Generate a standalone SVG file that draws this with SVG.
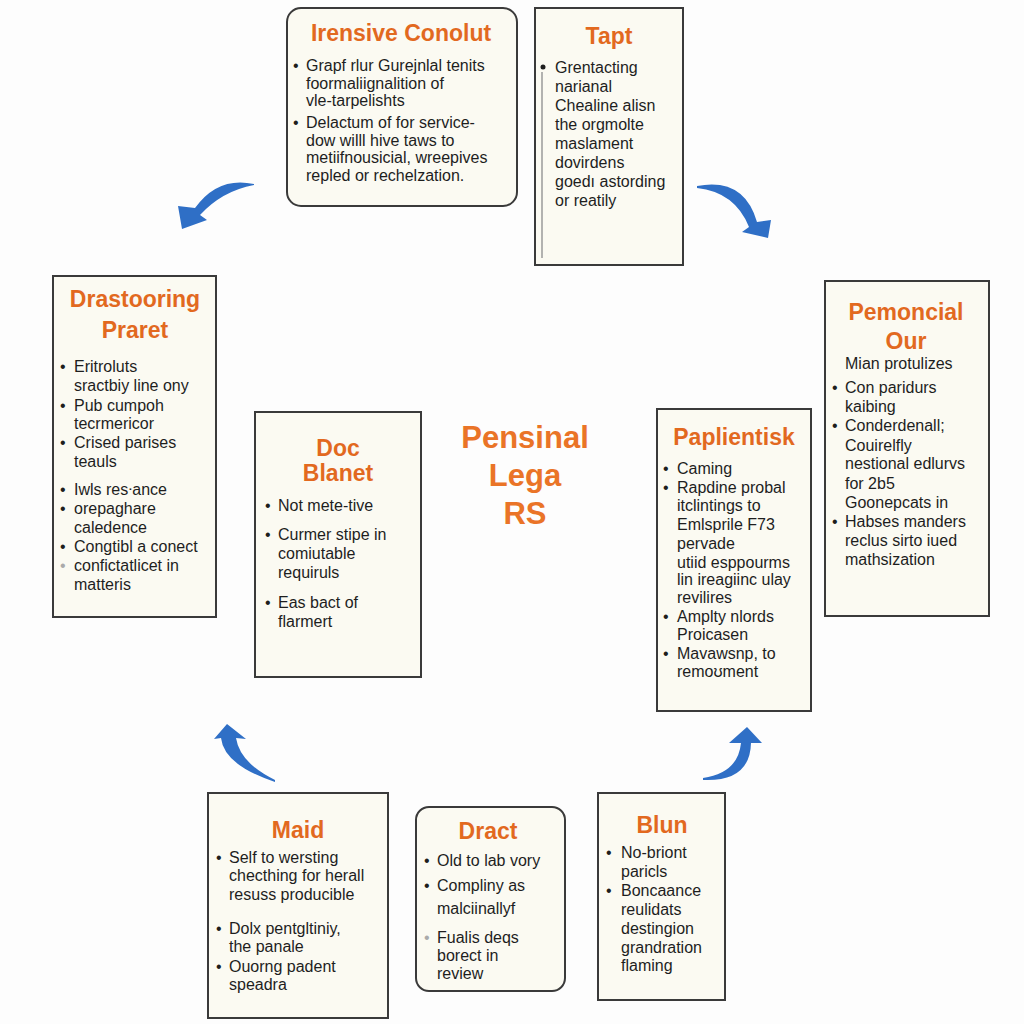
<svg xmlns="http://www.w3.org/2000/svg" width="1024" height="1024" viewBox="0 0 1024 1024">
<defs>
<style>
.bx{fill:#fbfaf2;stroke:#3a3a3a;stroke-width:2}
.tt{font-family:"Liberation Sans",Arial,sans-serif;font-weight:bold;font-size:23px;fill:#e2691f;text-anchor:middle}
.tx{font-family:"Liberation Sans",Arial,sans-serif;font-size:16px;fill:#1e1e1e}
.ct{font-family:"Liberation Sans",Arial,sans-serif;font-weight:bold;font-size:31px;fill:#ea7427;text-anchor:middle}
.ar{fill:#2f6fc6}
</style>
</defs>
<rect width="1024" height="1024" fill="#fdfdfd"/>

<g id="connectors">
<path class="ar" d="M254,184 Q218,176 195,208 L178,206 L182,229 L207,220 L200,215 Q222,191 254,185 Z"/>
<path class="ar" d="M697,186 Q744,177 757,222 L771,220 L768,238 L742,232 L749,227 Q735,192 697,188 Z"/>
<path class="ar" d="M275,782 Q224,765 221,738 L214,739 L227,724 L246,739 L236,738 Q240,763 275,780 Z"/>
<path class="ar" d="M703,778 Q738,773 741,743 L729,743 L747,727 L762,743 L751,743 Q750,782 703,780 Z"/>
</g>

<g id="node-irensive">
<rect class="bx" x="287" y="8" width="230" height="198" rx="14"/>
<text class="tt" x="401" y="41">Irensive Conolut</text>
<g class="tx">
<text x="293" y="71">•</text>
<text x="306" y="71">Grapf rlur Gurejnlal tenits</text>
<text x="306" y="89">foormaliignalition of</text>
<text x="306" y="106">vle-tarpelishts</text>
<text x="293" y="128">•</text>
<text x="306" y="128">Delactum of for service-</text>
<text x="306" y="146">dow willl hive taws to</text>
<text x="306" y="163">metiifnousicial, wreepives</text>
<text x="306" y="181">repled or rechelzation.</text>
</g>
</g>

<g id="node-tapt">
<rect class="bx" x="535" y="8" width="148" height="257"/>
<line x1="542" y1="72" x2="542" y2="258" stroke="#9a9a9a" stroke-width="1.5"/>
<text class="tt" x="609" y="44">Tapt</text>
<g class="tx">
<circle cx="543" cy="67" r="2.5" fill="#1e1e1e"/>
<text x="555" y="73">Grentacting</text>
<text x="555" y="92">narianal</text>
<text x="555" y="111">Chealine alisn</text>
<text x="555" y="130">the orgmolte</text>
<text x="555" y="149">maslament</text>
<text x="555" y="168">dovirdens</text>
<text x="555" y="187">goedı astording</text>
<text x="555" y="206">or reatily</text>
</g>
</g>

<g id="node-drastooring">
<rect class="bx" x="53" y="276" width="163" height="341"/>
<text class="tt" x="135" y="307">Drastooring</text>
<text class="tt" x="135" y="338">Praret</text>
<g class="tx">
<text x="60" y="372">•</text><text x="74" y="372">Eritroluts</text>
<text x="74" y="391">sractbiy line ony</text>
<text x="60" y="411">•</text><text x="74" y="411">Pub cumpoh</text>
<text x="74" y="429">tecrmericor</text>
<text x="60" y="448">•</text><text x="74" y="448">Crised parises</text>
<text x="74" y="467">teauls</text>
<text x="60" y="495">•</text><text x="74" y="495">Iwls resᐧance</text>
<text x="60" y="514">•</text><text x="74" y="514">orepaghare</text>
<text x="74" y="533">caledence</text>
<text x="60" y="552">•</text><text x="74" y="552">Congtibl a conect</text>
<text x="60" y="571" fill="#aaaaaa">•</text><text x="74" y="571">confictatlicet in</text>
<text x="74" y="590">matteris</text>
</g>
</g>

<g id="node-doc">
<rect class="bx" x="255" y="412" width="166" height="265"/>
<text class="tt" x="338" y="456">Doc</text>
<text class="tt" x="338" y="481">Blanet</text>
<g class="tx">
<text x="265" y="511">•</text><text x="278" y="511">Not mete-tive</text>
<text x="265" y="540">•</text><text x="278" y="540">Curmer stipe in</text>
<text x="278" y="559">comiutable</text>
<text x="278" y="578">requiruls</text>
<text x="265" y="608">•</text><text x="278" y="608">Eas bact of</text>
<text x="278" y="627">flarmert</text>
</g>
</g>

<g id="node-center">
<text class="ct" x="525" y="448">Pensinal</text>
<text class="ct" x="525" y="486">Lega</text>
<text class="ct" x="525" y="524">RS</text>
</g>

<g id="node-paplientisk">
<rect class="bx" x="657" y="409" width="154" height="302"/>
<text class="tt" x="734" y="445">Paplientisk</text>
<g class="tx">
<text x="663" y="474">•</text><text x="677" y="474">Caming</text>
<text x="663" y="493">•</text><text x="677" y="493">Rapdine probal</text>
<text x="677" y="511">itclintings to</text>
<text x="677" y="530">Emlsprile F73</text>
<text x="677" y="549">pervade</text>
<text x="677" y="568">utiid esppourms</text>
<text x="677" y="585">lin ireagiinc ulay</text>
<text x="677" y="603">revilires</text>
<text x="663" y="622">•</text><text x="677" y="622">Amplty nlords</text>
<text x="677" y="640">Proicasen</text>
<text x="663" y="659">•</text><text x="677" y="659">Mavawsnp, to</text>
<text x="677" y="677">remoʊment</text>
</g>
</g>

<g id="node-pemoncial">
<rect class="bx" x="825" y="281" width="164" height="335"/>
<text class="tt" x="906" y="320">Pemoncial</text>
<text class="tt" x="906" y="349">Our</text>
<g class="tx">
<text x="845" y="369">Mian protulizes</text>
<text x="832" y="393">•</text><text x="845" y="393">Con paridurs</text>
<text x="845" y="412">kaibing</text>
<text x="832" y="431">•</text><text x="845" y="431">Conderdenall;</text>
<text x="845" y="451">Couirelfly</text>
<text x="845" y="469">nestional edlurvs</text>
<text x="845" y="489">for 2b5</text>
<text x="845" y="508">Goonepcats in</text>
<text x="832" y="527">•</text><text x="845" y="527">Habses manders</text>
<text x="845" y="546">reclus sirto iued</text>
<text x="845" y="565">mathsization</text>
</g>
</g>

<g id="node-maid">
<rect class="bx" x="208" y="793" width="180" height="225"/>
<text class="tt" x="298" y="838">Maid</text>
<g class="tx">
<text x="216" y="863">•</text><text x="229" y="863">Self to wersting</text>
<text x="229" y="881">checthing for herall</text>
<text x="229" y="900">resuss producible</text>
<text x="216" y="934">•</text><text x="229" y="934">Dolx pentgltiniy,</text>
<text x="229" y="952">the panale</text>
<text x="216" y="972">•</text><text x="229" y="972">Ouorng padent</text>
<text x="229" y="990">speadra</text>
</g>
</g>

<g id="node-dract">
<rect class="bx" x="416" y="807" width="149" height="184" rx="13"/>
<text class="tt" x="488" y="839">Dract</text>
<g class="tx">
<text x="424" y="866">•</text><text x="437" y="866">Old to lab vory</text>
<text x="424" y="891">•</text><text x="437" y="891">Compliny as</text>
<text x="437" y="914">malciinallyf</text>
<text x="424" y="943" fill="#aaaaaa">•</text><text x="437" y="943">Fualis deqs</text>
<text x="437" y="961">borect in</text>
<text x="437" y="979">review</text>
</g>
</g>

<g id="node-blun">
<rect class="bx" x="598" y="793" width="127" height="207"/>
<text class="tt" x="662" y="833">Blun</text>
<g class="tx">
<text x="606" y="858">•</text><text x="621" y="858">No-briont</text>
<text x="621" y="877">paricls</text>
<text x="606" y="896">•</text><text x="621" y="896">Boncaance</text>
<text x="621" y="915">reulidats</text>
<text x="621" y="934">destingion</text>
<text x="621" y="953">grandration</text>
<text x="621" y="971">flaming</text>
</g>
</g>
</svg>
